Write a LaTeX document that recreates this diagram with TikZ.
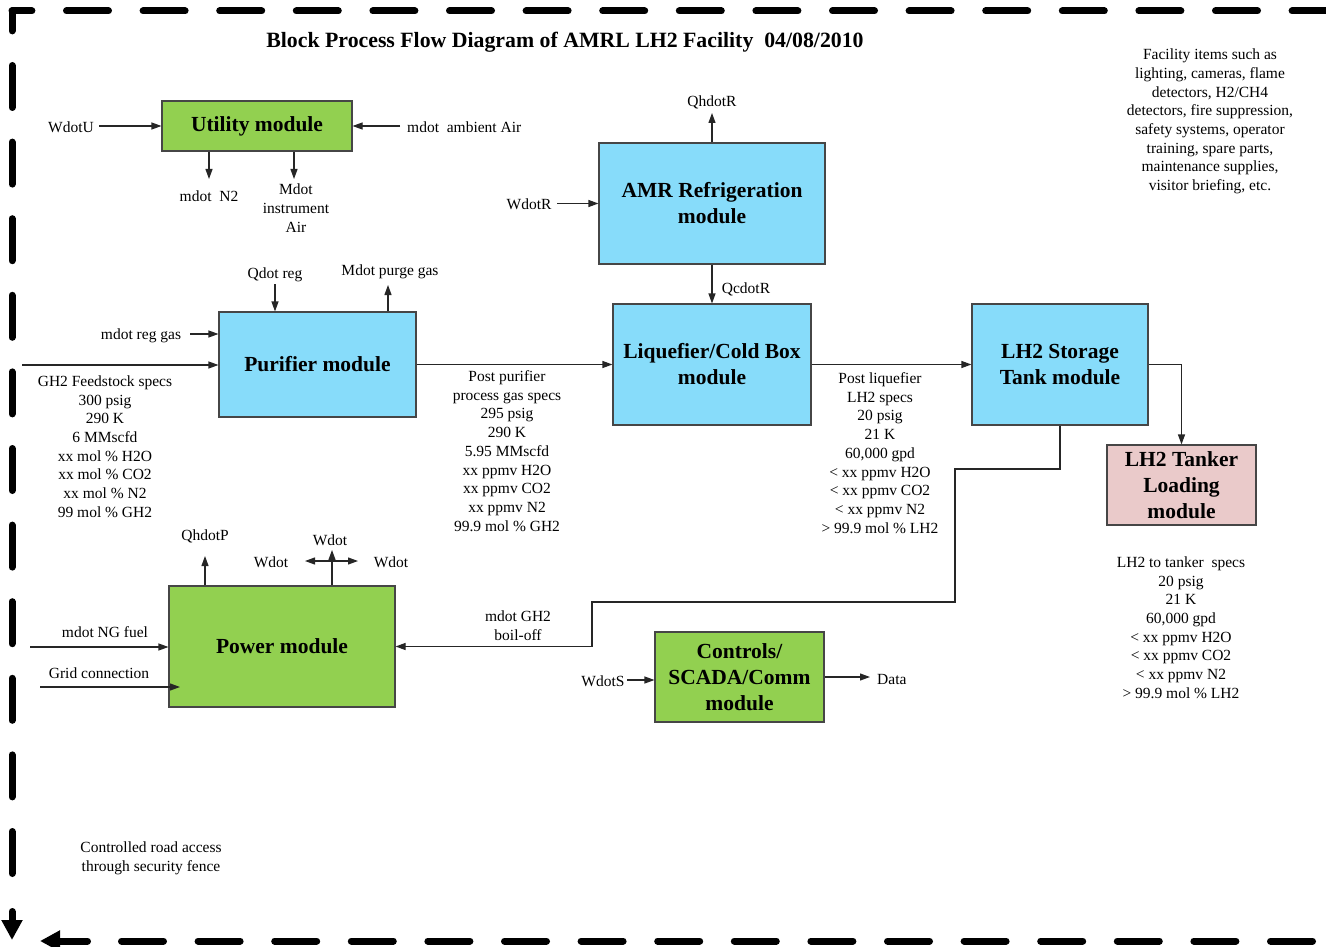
\documentclass[tikz,border=0pt]{standalone}
\usepackage{fontspec}
\setmainfont{Liberation Serif}
\usetikzlibrary{arrows.meta}
\definecolor{modgreen}{RGB}{146,208,80}
\definecolor{modblue}{RGB}{135,220,250}
\definecolor{modpink}{RGB}{234,202,202}
\definecolor{edgegray}{RGB}{70,70,70}
\begin{document}
\begin{tikzpicture}[x=1pt,y=-1pt,
  module/.style={draw=edgegray, line width=1.1pt, inner sep=0pt, align=center,
    font=\bfseries\fontsize{21.5}{26}\selectfont},
  lbl/.style={inner sep=0pt, align=center, font=\fontsize{15.5}{18.7}\selectfont},
  slbl/.style={lbl, yshift=-1.5pt},
  flow/.style={draw=black!85, line width=1.1pt, -{Triangle[length=10pt,width=7pt]}},
  bidir/.style={draw=black!85, line width=1.1pt, {Triangle[length=10pt,width=7pt]}-{Triangle[length=10pt,width=7pt]}},
  border/.style={line width=7pt, line cap=round, dash pattern=on 42pt off 34.6pt},
  bordertip/.style={line width=7pt, line cap=round, -{Triangle[length=20pt,width=20pt]}}]
\useasboundingbox (0,0) rectangle (1326,947);
\fill[white] (0,0) rectangle (1326,947);

% ---- border ----
\draw[border, dash phase=22.1pt] (12,11) -- (1345,11);
\draw[border, dash phase=22.1pt] (12,11) -- (12,885);
\draw[bordertip] (12,911.5) -- (12,940);
\draw[border] (121.5,941) -- (1345,941);
\draw[bordertip] (87.5,941) -- (40,941);

% ---- title ----
\node[slbl, font=\bfseries\fontsize{21.8}{26}\selectfont] (title) at (565,41)
  {Block Process Flow Diagram of AMRL LH2 Facility\ \ 04/08/2010};

% ---- modules ----
\node[module, fill=modgreen, minimum width=190pt, minimum height=50pt] (util) at (257,126) {Utility module};
\node[module, fill=modblue, minimum width=226pt, minimum height=121pt] (amr) at (712,203.5) {AMR Refrigeration\\module};
\node[module, fill=modblue, minimum width=197pt, minimum height=105pt] (pur) at (317.5,364.5) {Purifier module};
\node[module, fill=modblue, minimum width=198pt, minimum height=121pt] (liq) at (712,364.5) {Liquefier/Cold Box\\module};
\node[module, fill=modblue, minimum width=176pt, minimum height=121pt] (stor) at (1060,364.5) {LH2 Storage\\Tank module};
\node[module, fill=modpink, minimum width=149pt, minimum height=80pt] (tank) at (1181.5,485) {LH2 Tanker\\Loading\\module};
\node[module, fill=modgreen, minimum width=226pt, minimum height=121pt] (power) at (282,646.5) {Power module};
\node[module, fill=modgreen, minimum width=169pt, minimum height=90pt] (ctrl) at (739.5,677) {Controls/\\SCADA/Comm\\module};

% ---- labels ----
\node[slbl] (lwu) at (71,126) {WdotU};
\node[slbl, anchor=west] (lair) at (407,126) {mdot\ \ ambient Air};
\node[slbl] (ln2) at (209,195) {mdot\ \ N2};
\node[lbl] (lia) at (296,208) {Mdot\\instrument\\Air};
\node[slbl] (lqhr) at (712,101) {QhdotR};
\node[slbl] (lwr) at (529,203) {WdotR};
\node[slbl] (lqcr) at (746,288) {QcdotR};
\node[slbl] (lqreg) at (275,273) {Qdot reg};
\node[slbl] (lpurge) at (390,270) {Mdot purge gas};
\node[slbl] (lreg) at (141,334) {mdot reg gas};
\node[lbl] (lfeed) at (105,446.5) {GH2 Feedstock specs\\300 psig\\290 K\\6 MMscfd\\xx mol \% H2O\\xx mol \% CO2\\xx mol \% N2\\99 mol \% GH2};
\node[lbl] (lpp) at (507,451) {Post purifier\\process gas specs\\295 psig\\290 K\\5.95 MMscfd\\xx ppmv H2O\\xx ppmv CO2\\xx ppmv N2\\99.9 mol \% GH2};
\node[lbl] (lpl) at (880,453) {Post liquefier\\LH2 specs\\20 psig\\21 K\\60,000 gpd\\< xx ppmv H2O\\< xx ppmv CO2\\< xx ppmv N2\\> 99.9 mol \% LH2};
\node[lbl] (ltk) at (1181,627.5) {LH2 to tanker\ \ specs\\20 psig\\21 K\\60,000 gpd\\< xx ppmv H2O\\< xx ppmv CO2\\< xx ppmv N2\\> 99.9 mol \% LH2};
\node[lbl] (lfac) at (1210,121.5) {Facility items such as\\lighting, cameras, flame\\detectors, H2/CH4\\detectors, fire suppression,\\safety systems, operator\\training, spare parts,\\maintenance supplies,\\visitor briefing, etc.};
\node[lbl] (lroad) at (151,858.5) {Controlled road access\\through security fence};
\node[lbl] (lboil) at (518,626) {mdot GH2\\boil-off};
\node[slbl] (lqhp) at (205,535) {QhdotP};
\node[slbl] (lwup) at (330,539) {Wdot};
\node[slbl] (lwl) at (271,561) {Wdot};
\node[slbl] (lwrr) at (391,561) {Wdot};
\node[slbl] (lng) at (105,631) {mdot NG fuel};
\node[slbl] (lgrid) at (99,672) {Grid connection};
\node[slbl] (lws) at (603,680) {WdotS};
\node[slbl, anchor=west] (ldata) at (877,678) {Data};

% ---- free ends ----
\coordinate (cWU) at (99,126);
\coordinate (cAir) at (400,126);
\coordinate (cN2) at (209,179);
\coordinate (cIA) at (294,179);
\coordinate (cQh) at (712,113);
\coordinate (cWR) at (557,203.5);
\coordinate (cQr) at (275,284);
\coordinate (cPg) at (388,285);
\coordinate (cRg) at (190,334);
\coordinate (cFeed) at (22,365);
\coordinate (cB1) at (955,469);
\coordinate (cB2) at (592,602);
\coordinate (cQp) at (205,556);
\coordinate (cWu) at (332,550);
\coordinate (cWl) at (305,561);
\coordinate (cWr) at (358,561);
\coordinate (cNG) at (30,647);
\coordinate (cGr) at (40,687);
\coordinate (cGr2) at (180,687);
\coordinate (cWS) at (627,680);
\coordinate (cD) at (870,677);

% ---- connectors ----
\draw[flow] (cWU) -- (util.west);
\draw[flow] (cAir) -- (util.east);
\draw[flow] (util.south -| cN2) -- (cN2);
\draw[flow] (util.south -| cIA) -- (cIA);
\draw[flow] (amr.north) -- (cQh);
\draw[flow] (cWR) -- (amr.west);
\draw[flow] (amr.south) -- (liq.north);
\draw[flow] (cQr) -- (cQr |- pur.north);
\draw[flow] (pur.north -| cPg) -- (cPg);
\draw[flow] (cRg) -- (cRg -| pur.west);
\draw[flow] (cFeed) -- (cFeed -| pur.west);
\draw[flow] (pur.east) -- (liq.west);
\draw[flow] (liq.east) -- (stor.west);
\draw[flow] (stor.east) -| (tank.north);
\draw[flow] (stor.south) |- (cB1) |- (cB2) |- (power.east);
\draw[flow] (power.north -| cQp) -- (cQp);
\draw[flow] (power.north -| cWu) -- (cWu);
\draw[bidir] (cWl) -- (cWr);
\draw[flow] (cNG) -- (cNG -| power.west);
\draw[flow] (cGr) -- (cGr2);
\draw[flow] (cWS) -- (cWS -| ctrl.west);
\draw[flow] (ctrl.east |- cD) -- (cD);
\end{tikzpicture}
\end{document}
